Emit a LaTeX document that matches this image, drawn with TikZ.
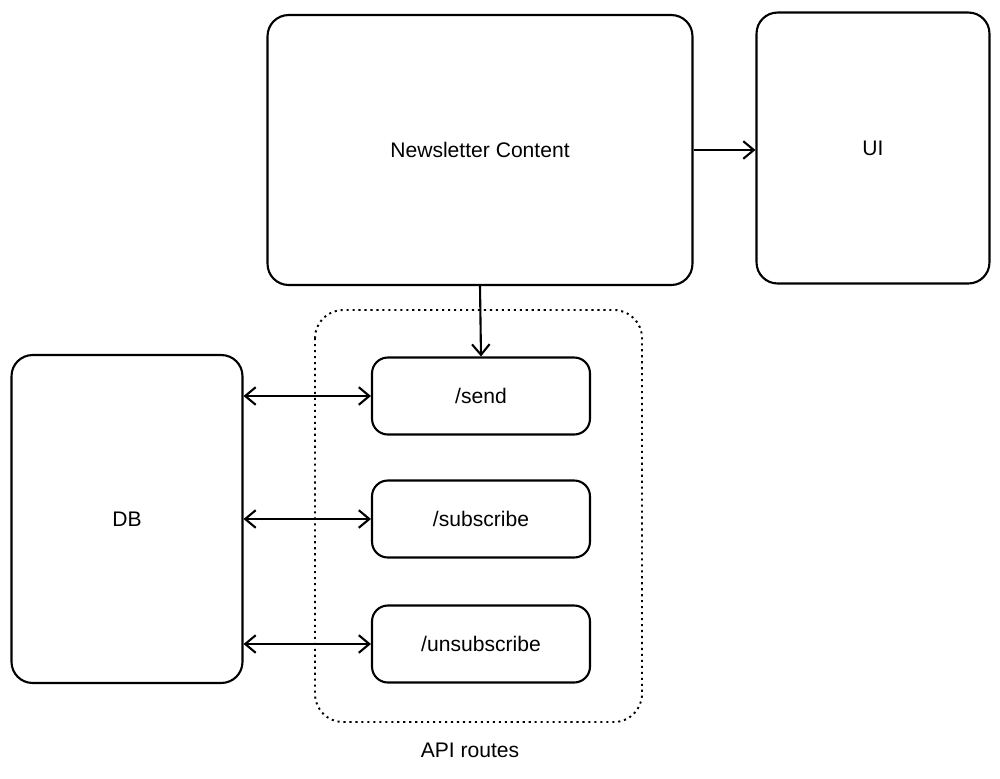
\documentclass[tikz,border=0pt]{standalone}
\usepackage{fontspec}
\setmainfont{Liberation Sans}
\usetikzlibrary{arrows.meta}
\tikzset{
  box/.style={draw, line width=1.2pt, rounded corners=12pt, font=\large},
  route/.style={draw, line width=1.2pt, rounded corners=9pt, font=\large,
    minimum width=4.36cm, minimum height=1.54cm},
  link/.style={line width=1.2pt, -{Straight Barb[length=6pt,width=10pt]}},
  both/.style={line width=1.2pt, {Straight Barb[length=6pt,width=10pt]}-{Straight Barb[length=6pt,width=10pt]}}
}
\begin{document}
\begin{tikzpicture}[x=0.02cm, y=-0.02cm]
  \useasboundingbox (0,0) rectangle (1000,778);
  % main blocks
  \node[box, minimum width=8.5cm, minimum height=5.4cm] (content) at (480,150) {Newsletter Content};
  \node[box, minimum width=4.66cm, minimum height=5.42cm] (ui) at (873,148) {UI};
  \node[box, minimum width=4.62cm, minimum height=6.56cm] (db) at (127,519) {DB};
  % api routes
  \draw[line width=1.1pt, dash pattern=on 1.2pt off 2.2pt, rounded corners=16pt] (315,310) rectangle (642,722);
  \node[font=\large] (api) at (470,750) {API routes};
  \node[route] (send) at (481,396) {/send};
  \node[route] (sub) at (481,519) {/subscribe};
  \node[route] (unsub) at (481,644) {/unsubscribe};
  % connectors
  \draw[link] (content.east) -- (ui.west |- content.east);
  \draw[link] (content.south) -- (send.north);
  \draw[both] (db.east |- send.west) -- (send.west);
  \draw[both] (db.east |- sub.west) -- (sub.west);
  \draw[both] (db.east |- unsub.west) -- (unsub.west);
\end{tikzpicture}
\end{document}
